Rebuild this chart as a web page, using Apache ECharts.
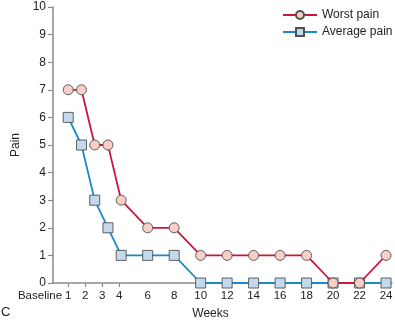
<!DOCTYPE html>
<html><head><meta charset="utf-8">
<script src="https://cdn.jsdelivr.net/npm/echarts@6/dist/echarts.min.js"></script>
<style>html,body{margin:0;padding:0;background:#fff}#c{width:395px;height:322px}</style>
</head><body><div id="c"></div>
<script>
// ---- data ----
const weeks = [0, 1, 2, 3, 4, 6, 8, 10, 12, 14, 16, 18, 20, 22, 24];
const worstPain = [7, 7, 5, 5, 3, 2, 2, 1, 1, 1, 1, 1, 0, 0, 1];
const averagePain = [6, 5, 3, 2, 1, 1, 1, 0, 0, 0, 0, 0, 0, 0, 0];
const xTickLabels = ['Baseline', '1', '2', '3', '4', '6', '8', '10', '12', '14', '16', '18', '20', '22', '24'];
const yTickValues = [0, 1, 2, 3, 4, 5, 6, 7, 8, 9, 10];
const seriesNames = ['Worst pain', 'Average pain'];

// ---- layout / style ----
const X_MIN = -1.15, X_MAX = 24.45;
// in the source figure the first tick labels are set apart from the points
const labelAt = [X_MIN, 0, 1.28, 2.57, 3.85].concat(weeks.slice(5));
const tickAt = labelAt.slice(1, 5);
const FONT = '"Liberation Sans", Arial, sans-serif';
const AXIS_COLOR = '#8a8a8a';
const TEXT = '#222';

const chart = echarts.init(document.getElementById('c'), null, {renderer: 'canvas'});
chart.setOption({
  animation: false,
  textStyle: {fontFamily: FONT},
  title: {text: 'C', left: 1, top: 306, padding: 0, textStyle: {fontSize: 13, fontWeight: 'normal', color: TEXT, fontFamily: FONT}},
  grid: {left: 53, right: 3, top: 7, bottom: 39, containLabel: false, outerBoundsMode: 'none'},
  legend: {
    orient: 'vertical', left: 282, top: 9, padding: 0, itemWidth: 34, itemHeight: 10, itemGap: 5,
    data: seriesNames,
    textStyle: {fontSize: 12, color: TEXT, fontFamily: FONT}
  },
  xAxis: {
    type: 'value', min: X_MIN, max: X_MAX,
    name: 'Weeks', nameLocation: 'middle', nameGap: 25,
    nameTextStyle: {fontSize: 12, color: TEXT, fontFamily: FONT, padding: [0, 24, 0, 0]},
    splitLine: {show: false},
    axisLine: {onZero: false, lineStyle: {color: AXIS_COLOR, width: 1.5}},
    axisTick: {customValues: tickAt, length: 4, lineStyle: {color: AXIS_COLOR, width: 1.2}},
    axisLabel: {
      customValues: labelAt, margin: 7, fontSize: 11.5, color: TEXT, fontFamily: FONT,
      formatter: function (v) {
        for (let i = 0; i < labelAt.length; i++) {
          if (Math.abs(labelAt[i] - v) < 1e-6) return i === 0 ? '{bl|' + xTickLabels[0] + '}' : xTickLabels[i];
        }
        return '';
      },
      rich: {bl: {fontSize: 11.5, color: TEXT, fontFamily: FONT, padding: [0, 26, 0, 0]}}
    }
  },
  yAxis: {
    type: 'value', min: yTickValues[0], max: yTickValues[yTickValues.length - 1], interval: 1,
    name: 'Pain', nameLocation: 'middle', nameGap: 24,
    nameTextStyle: {fontSize: 12, color: TEXT, fontFamily: FONT},
    splitLine: {show: false},
    axisLine: {show: true, onZero: false, lineStyle: {color: AXIS_COLOR, width: 1.5}},
    axisTick: {show: true, length: 5, lineStyle: {color: AXIS_COLOR, width: 1.2}},
    axisLabel: {margin: 7, fontSize: 12, color: TEXT, fontFamily: FONT}
  },
  series: [
    {
      name: seriesNames[1], type: 'line', z: 2,
      data: weeks.map((w, i) => [w, averagePain[i]]),
      symbol: 'rect', symbolSize: 10,
      lineStyle: {color: '#1b8ac8', width: 1.8},
      itemStyle: {color: '#c4d8ee', borderColor: '#505050', borderWidth: 0.9}
    },
    {
      name: seriesNames[0], type: 'line', z: 3,
      data: weeks.map((w, i) => [w, worstPain[i]]),
      symbol: 'circle', symbolSize: 10,
      lineStyle: {color: '#c8173f', width: 1.8},
      itemStyle: {color: '#f8cfc6', borderColor: '#505050', borderWidth: 0.9}
    }
  ]
});
</script></body></html>
